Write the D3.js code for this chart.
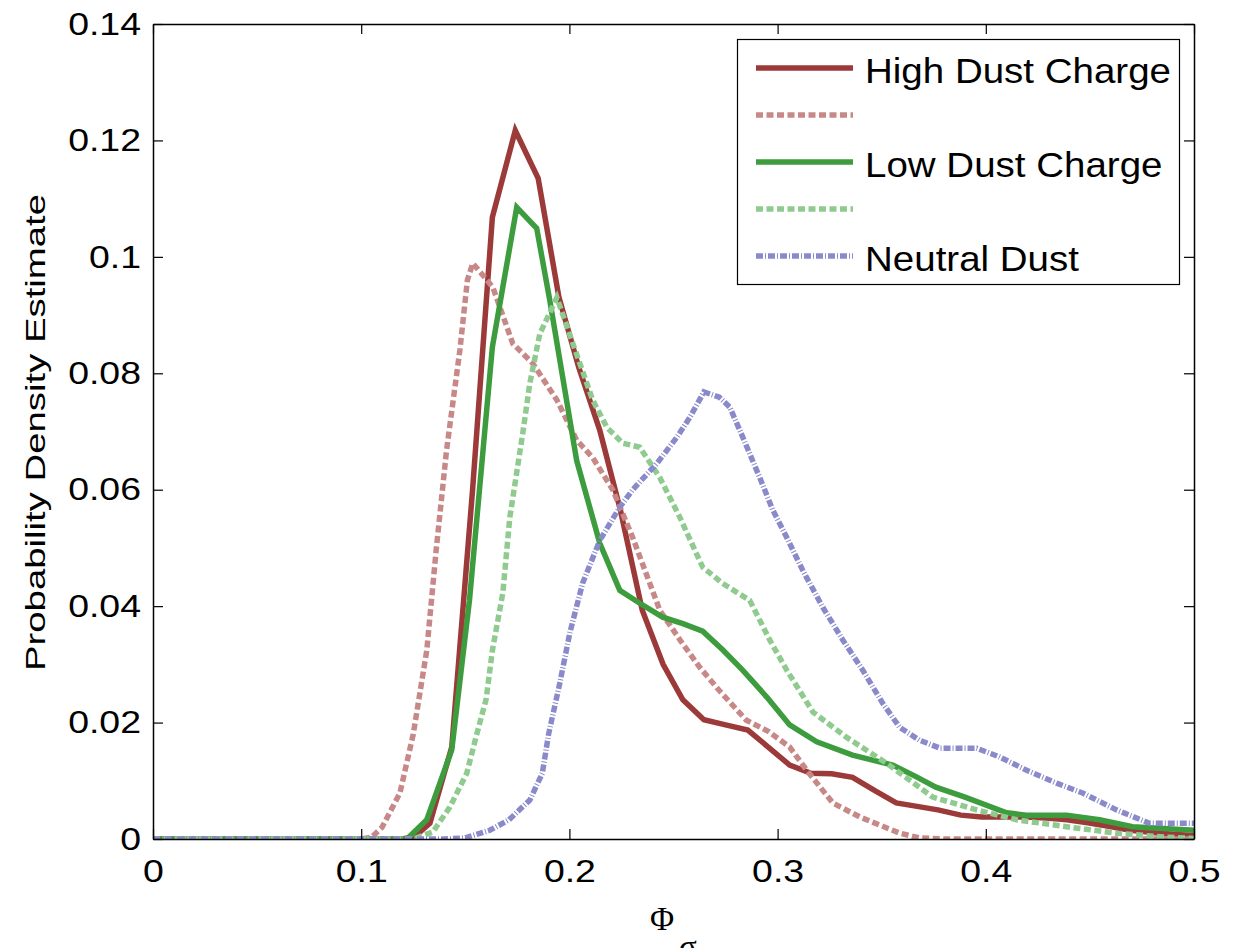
<!DOCTYPE html>
<html>
<head>
<meta charset="utf-8">
<script src="https://cdn.jsdelivr.net/npm/d3@7"></script>
<style>
  body { margin: 0; background: #fff; }
  svg { display: block; }
</style>
</head>
<body>
<div id="chart"></div>
<script>
// Probability density estimates of Phi_sigma as [phi, density]
var highCharge = [[0,0],[0.12,0],[0.126,0.0005],[0.133,0.0027],[0.1435,0.0158],[0.1535,0.06],[0.163,0.1068],[0.174,0.1217],[0.185,0.1135],[0.195,0.093],[0.2045,0.081],[0.2146,0.0702],[0.2245,0.0565],[0.235,0.0393],[0.245,0.030],[0.2545,0.0239],[0.2646,0.0205],[0.275,0.0196],[0.2857,0.0187],[0.2955,0.0158],[0.3058,0.0127],[0.316,0.0113],[0.326,0.0112],[0.336,0.0106],[0.3467,0.0083],[0.357,0.0062],[0.367,0.0056],[0.377,0.005],[0.388,0.0041],[0.398,0.0038],[0.4185,0.0038],[0.429,0.0036],[0.439,0.0033],[0.449,0.0028],[0.459,0.0022],[0.4695,0.0015],[0.48,0.0011],[0.49,0.0008],[0.5,0.0006]];
var highChargeAlt = [[0,0],[0.1,0],[0.105,0.0003],[0.11,0.002],[0.1186,0.0079],[0.125,0.018],[0.1315,0.0324],[0.136,0.0496],[0.141,0.0668],[0.1474,0.084],[0.151,0.096],[0.1536,0.0989],[0.1632,0.0948],[0.1728,0.0851],[0.1824,0.0817],[0.194,0.0754],[0.2035,0.0685],[0.2112,0.0655],[0.2208,0.060],[0.2304,0.0518],[0.2434,0.0393],[0.2535,0.034],[0.2626,0.0295],[0.272,0.0255],[0.285,0.0204],[0.2955,0.0185],[0.3058,0.0158],[0.314,0.0118],[0.3265,0.0062],[0.3394,0.0038],[0.3586,0.001],[0.368,0.0002],[0.38,0],[0.5,0]];
var lowCharge = [[0,0],[0.122,0],[0.1315,0.0033],[0.1435,0.0153],[0.152,0.041],[0.163,0.0845],[0.1747,0.1085],[0.1843,0.1049],[0.1906,0.0925],[0.2035,0.065],[0.2146,0.0508],[0.2242,0.0427],[0.2338,0.0405],[0.2448,0.0381],[0.2545,0.037],[0.264,0.0357],[0.2736,0.0325],[0.2832,0.029],[0.295,0.0243],[0.3058,0.0196],[0.3188,0.0167],[0.336,0.0144],[0.3553,0.0127],[0.366,0.0108],[0.376,0.0089],[0.39,0.0072],[0.41,0.0045],[0.4195,0.0041],[0.4388,0.0041],[0.4546,0.0033],[0.4705,0.0021],[0.5,0.0015]];
var lowChargeAlt = [[0,0],[0.125,0],[0.1344,0.0012],[0.1426,0.0055],[0.1507,0.0113],[0.1555,0.018],[0.160,0.024],[0.163,0.0324],[0.168,0.0422],[0.1714,0.0553],[0.1776,0.0697],[0.181,0.0783],[0.1858,0.0868],[0.194,0.093],[0.2,0.0868],[0.2112,0.0754],[0.218,0.0707],[0.2256,0.068],[0.2338,0.0673],[0.2434,0.0621],[0.253,0.0553],[0.264,0.0467],[0.2736,0.0439],[0.2866,0.041],[0.2962,0.0342],[0.3044,0.029],[0.317,0.0218],[0.333,0.0175],[0.3524,0.013],[0.3745,0.0072],[0.3956,0.005],[0.4148,0.0033],[0.4388,0.0021],[0.4628,0.001],[0.4868,0.0003],[0.5,0.0001]];
var neutral = [[0,0],[0.14,0],[0.15,0.0002],[0.1618,0.0015],[0.171,0.0033],[0.181,0.0067],[0.187,0.0113],[0.19,0.018],[0.1954,0.0268],[0.2002,0.0354],[0.2064,0.044],[0.2146,0.0513],[0.2242,0.057],[0.2304,0.060],[0.242,0.0645],[0.2516,0.069],[0.2578,0.0724],[0.2646,0.0768],[0.272,0.0759],[0.277,0.0742],[0.2833,0.069],[0.2914,0.0621],[0.2977,0.0565],[0.3044,0.0518],[0.312,0.0462],[0.3217,0.0398],[0.3313,0.0342],[0.3409,0.029],[0.3505,0.0233],[0.3586,0.0192],[0.368,0.017],[0.378,0.0156],[0.3956,0.0156],[0.4066,0.0141],[0.4196,0.0118],[0.434,0.0096],[0.4465,0.0079],[0.4628,0.005],[0.4786,0.0027],[0.5,0.0027]];

var xTicks = [0, 0.1, 0.2, 0.3, 0.4, 0.5];
var yTicks = [0, 0.02, 0.04, 0.06, 0.08, 0.1, 0.12, 0.14];
var legendLabels = ["High Dust Charge", "", "Low Dust Charge", "", "Neutral Dust"];

var series = [
    { data: highCharge,    color: "#9c3a3a", dash: null },
    { data: highChargeAlt, color: "#c98888", dash: "7,3.5" },
    { data: lowCharge,     color: "#3d9c3d", dash: null },
    { data: lowChargeAlt,  color: "#8fcb8f", dash: "7,3.5" },
    { data: neutral,       color: "#8a8acb", dash: "7,2,1,2" }
];

var width = 1233, height = 948;
var margin = { top: 24, right: 39, bottom: 109, left: 153 };
var font = "'Liberation Sans', Arial, Helvetica, sans-serif";

// stretch text horizontally, the original glyphs are wider than Arial
function stretch(sel, k) {
    sel.attr("lengthAdjust", "spacingAndGlyphs")
       .attr("textLength", function () { return this.getComputedTextLength() * k; });
}

var svg = d3.select("#chart").append("svg")
    .attr("width", width)
    .attr("height", height)
    .style("background", "#fff");

var x = d3.scaleLinear().domain([0, 0.5]).range([margin.left, width - margin.right]);
var y = d3.scaleLinear().domain([0, 0.14]).range([height - margin.bottom, margin.top]);

svg.append("clipPath").attr("id", "plot-clip")
    .append("rect")
    .attr("x", x(0)).attr("y", y(0.14))
    .attr("width", x(0.5) - x(0)).attr("height", y(0) - y(0.14));

var line = d3.line()
    .x(d => x(d[0]))
    .y(d => y(d[1]));

var lines = svg.append("g").attr("clip-path", "url(#plot-clip)");
series.forEach(s => {
    lines.append("path")
        .datum(s.data)
        .attr("fill", "none")
        .attr("stroke", s.color)
        .attr("stroke-width", 5.5)
        .attr("stroke-linejoin", "miter")
        .attr("stroke-dasharray", s.dash)
        .attr("d", line);
});

// axes with inward ticks on all four sides
function styleAxis(g) {
    g.select(".domain").attr("stroke", "#000").attr("stroke-width", 1.5);
    g.selectAll(".tick line").attr("stroke", "#000").attr("stroke-width", 1.2);
    g.selectAll("text").style("font-family", font).style("font-size", "32px").attr("fill", "#000");
}

svg.append("g")
    .attr("transform", `translate(0, ${y(0)})`)
    .call(d3.axisBottom(x).tickValues(xTicks).tickSizeInner(-10).tickSizeOuter(0).tickPadding(20)
        .tickFormat(d => String(+d.toFixed(2))))
    .call(styleAxis)
    .selectAll("text").attr("dy", "0.71em").call(stretch, 1.17);

svg.append("g")
    .attr("transform", `translate(${x(0)}, 0)`)
    .call(d3.axisLeft(y).tickValues(yTicks).tickSizeInner(-10).tickSizeOuter(0).tickPadding(12)
        .tickFormat(d => String(+d.toFixed(2))))
    .call(styleAxis)
    .selectAll("text").call(stretch, 1.17);

svg.append("g")
    .attr("transform", `translate(0, ${y(0.14)})`)
    .call(d3.axisTop(x).tickValues(xTicks).tickSizeInner(-10).tickSizeOuter(0).tickFormat(""))
    .call(styleAxis);

svg.append("g")
    .attr("transform", `translate(${x(0.5)}, 0)`)
    .call(d3.axisRight(y).tickValues(yTicks).tickSizeInner(-10).tickSizeOuter(0).tickFormat(""))
    .call(styleAxis);

// y axis title
svg.append("text")
    .attr("transform", `translate(45, ${(y(0) + y(0.14)) / 2 + 1}) rotate(-90)`)
    .attr("text-anchor", "middle")
    .style("font-family", font)
    .style("font-size", "28px")
    .attr("textLength", 477)
    .attr("lengthAdjust", "spacingAndGlyphs")
    .text("Probability Density Estimate");

// x axis title: Phi with subscript sigma
svg.append("text")
    .attr("x", 650).attr("y", 930)
    .style("font-family", "'Liberation Serif', 'Times New Roman', serif")
    .style("font-size", "33px")
    .text("Φ");
svg.append("text")
    .attr("x", 679).attr("y", 958)
    .style("font-family", "'Liberation Serif', 'Times New Roman', serif")
    .style("font-size", "33px")
    .text("σ");

// legend
var legend = svg.append("g");
legend.append("rect")
    .attr("x", 737.5).attr("y", 39.5)
    .attr("width", 442).attr("height", 245)
    .attr("fill", "#fff").attr("stroke", "#000").attr("stroke-width", 1.2);

series.forEach((s, i) => {
    var ly = 68 + i * 47;
    legend.append("line")
        .attr("x1", 756).attr("x2", 853)
        .attr("y1", ly).attr("y2", ly)
        .attr("stroke", s.color)
        .attr("stroke-width", 5.5)
        .attr("stroke-dasharray", s.dash);
    if (legendLabels[i]) {
        legend.append("text")
            .attr("x", 865).attr("y", ly + 15)
            .style("font-family", font)
            .style("font-size", "35px")
            .text(legendLabels[i])
            .call(stretch, 1.1);
    }
});
</script>
</body>
</html>
